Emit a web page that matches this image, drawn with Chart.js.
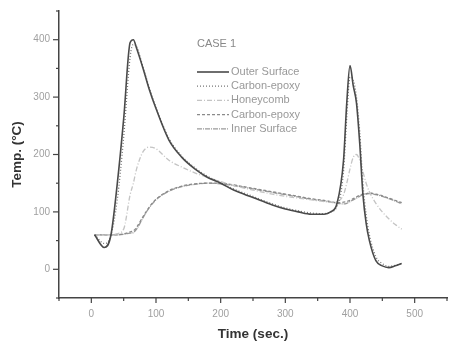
<!DOCTYPE html>
<html>
<head>
<meta charset="utf-8">
<script src="https://cdn.jsdelivr.net/npm/chart.js@4/dist/chart.umd.min.js"></script>
<style>
  html, body { margin: 0; padding: 0; background: #fff; }
  #wrap { width: 451px; height: 349px; }
</style>
</head>
<body>
<div id="wrap"><canvas id="tempChart" width="451" height="349"></canvas></div>
<script>
// ==========================================
// 1. DATA
// ==========================================
const times = [5, 20, 30, 40, 50, 60, 65, 70, 80, 90, 100, 120, 140, 160, 180, 200, 220, 250, 280, 300,
               320, 340, 360, 370, 380, 390, 395, 400, 405, 410, 415, 420, 425, 430, 440, 450, 460, 470, 480];

const outerSurface  = [60, 38, 58, 148, 262, 395, 400, 385, 350, 312, 280, 225, 195, 175, 160, 150, 138, 125, 112, 105,
                       100, 96, 96, 100, 115, 190, 290, 355, 320, 290, 220, 130, 80, 50, 15, 6, 3, 6, 10];
const carbonEpoxy1  = [60, 45, 58, 120, 230, 370, 392, 388, 352, 315, 282, 228, 197, 177, 162, 151, 140, 127, 114, 107,
                       102, 98, 97, 100, 110, 170, 265, 335, 330, 300, 240, 150, 95, 60, 22, 10, 5, 7, 10];
const honeycomb     = [60, 60, 60, 62, 70, 130, 150, 175, 205, 213, 210, 190, 178, 168, 160, 153, 146, 138, 131, 127,
                       124, 121, 118, 117, 118, 130, 150, 175, 195, 200, 190, 170, 150, 135, 115, 100, 88, 78, 70];
const carbonEpoxy2  = [60, 60, 60, 60, 62, 65, 67, 73, 92, 109, 122, 137, 145, 149, 150, 150, 147, 141, 135, 131,
                       127, 123, 120, 118, 116, 117, 118, 120, 123, 126, 129, 131, 132, 133, 131, 128, 124, 120, 116];
const innerSurface  = [60, 60, 60, 60, 61, 63, 64, 70, 90, 108, 121, 136, 144, 148, 150, 149, 146, 140, 134, 130,
                       126, 122, 119, 117, 115, 114, 115, 118, 121, 124, 127, 130, 131, 132, 130, 127, 123, 119, 114];

const seriesNames = ['Outer Surface', 'Carbon-epoxy', 'Honeycomb', 'Carbon-epoxy', 'Inner Surface'];
const seriesData = [outerSurface, carbonEpoxy1, honeycomb, carbonEpoxy2, innerSurface];
const seriesStyle = [
    { color: '#4a4a4a', dash: [],            width: 1.6 },
    { color: '#777777', dash: [1, 2],        width: 1.3 },
    { color: '#c4c4c4', dash: [5, 2, 1, 2],  width: 1.3 },
    { color: '#8a8a8a', dash: [3, 2],        width: 1.3 },
    { color: '#9a9a9a', dash: [5, 1, 1, 1],  width: 1.3 }
];

const caseLabel = 'CASE 1';
const fontFamily = '"Liberation Sans", Arial, sans-serif';

// ==========================================
// 2. PLUGINS: outward ticks + inset legend
// ==========================================
const tickPlugin = {
    id: 'tickMarks',
    afterDraw(chart) {
        const c = chart.ctx;
        const xs = chart.scales.x, ys = chart.scales.y;
        c.save();
        c.strokeStyle = '#444';
        c.lineWidth = 1.2;
        xs.ticks.forEach(t => {
            const px = xs.getPixelForValue(t.value);
            const len = (t.value % 100 === 0) ? 5 : 3;
            c.beginPath(); c.moveTo(px, xs.top); c.lineTo(px, xs.top + len); c.stroke();
        });
        ys.ticks.forEach(t => {
            const py = ys.getPixelForValue(t.value);
            const len = (t.value % 100 === 0) ? 6 : 3;
            c.beginPath(); c.moveTo(ys.right, py); c.lineTo(ys.right - len, py); c.stroke();
        });
        c.restore();
    }
};

const legendPlugin = {
    id: 'insetLegend',
    afterDraw(chart) {
        const c = chart.ctx;
        c.save();
        c.font = '11px ' + fontFamily;
        c.fillStyle = '#888';
        c.textBaseline = 'middle';
        c.fillText(caseLabel, 197, 44);
        chart.data.datasets.forEach((ds, i) => {
            const y = 72 + i * 14.2;
            c.strokeStyle = ds.borderColor;
            c.lineWidth = ds.borderWidth;
            c.setLineDash(ds.borderDash);
            c.beginPath(); c.moveTo(197, y); c.lineTo(229, y); c.stroke();
            c.setLineDash([]);
            c.fillStyle = '#999';
            c.fillText(ds.label, 231, y);
        });
        c.restore();
    }
};

// ==========================================
// 3. CHART SETUP
// ==========================================
const ctx = document.getElementById('tempChart').getContext('2d');

const tempChart = new Chart(ctx, {
    type: 'line',
    data: {
        datasets: seriesNames.map((name, i) => ({
            label: name,
            data: times.map((t, k) => ({ x: t, y: seriesData[i][k] })),
            borderColor: seriesStyle[i].color,
            borderDash: seriesStyle[i].dash,
            borderWidth: seriesStyle[i].width,
            pointRadius: 0,
            fill: false,
            cubicInterpolationMode: 'monotone'
        }))
    },
    options: {
        responsive: false,
        animation: false,
        layout: { padding: { top: 11, right: 2, left: 0, bottom: 0 } },
        plugins: { legend: { display: false }, tooltip: { enabled: false } },
        scales: {
            x: {
                type: 'linear',
                min: -50, max: 550,
                afterFit: s => { s.height = 51; },
                ticks: {
                    stepSize: 50,
                    autoSkip: false,
                    maxRotation: 0,
                    padding: 4,
                    color: '#a0a0a0',
                    font: { size: 10, family: fontFamily },
                    callback: v => (v % 100 === 0 && v >= 0 && v <= 500) ? v : ''
                },
                grid: { display: true, drawOnChartArea: false, tickLength: 6, tickColor: 'rgba(0,0,0,0)' },
                border: { display: true, color: '#444', width: 1.5 },
                title: {
                    display: true, text: 'Time (sec.)', color: '#333',
                    font: { size: 13.5, weight: 'bold', family: fontFamily },
                    padding: { top: 0, bottom: 7 }
                }
            },
            y: {
                min: -50, max: 450,
                afterFit: s => { s.width = 59; },
                ticks: {
                    stepSize: 50,
                    autoSkip: false,
                    padding: 3,
                    color: '#a0a0a0',
                    font: { size: 10, family: fontFamily },
                    callback: v => (v % 100 === 0 && v >= 0 && v <= 400) ? v : ''
                },
                grid: { display: true, drawOnChartArea: false, tickLength: 6, tickColor: 'rgba(0,0,0,0)' },
                border: { display: true, color: '#444', width: 1.5 },
                title: {
                    display: true, text: 'Temp. (°C)', color: '#333',
                    font: { size: 13.5, weight: 'bold', family: fontFamily },
                    padding: { top: 9, bottom: 0 }
                }
            }
        }
    },
    plugins: [tickPlugin, legendPlugin]
});
</script>
</body>
</html>
